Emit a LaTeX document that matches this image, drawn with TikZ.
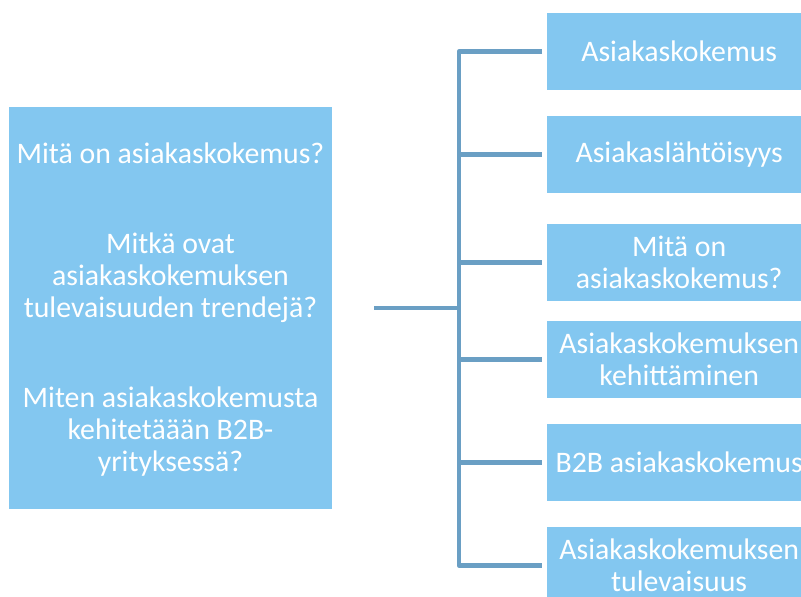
\documentclass[tikz,border=0pt]{standalone}
\usepackage{fontspec}
\setmainfont{Carlito}
\definecolor{boxblue}{HTML}{83C7F0}
\definecolor{linkblue}{HTML}{6A9FC4}
\begin{document}
\begin{tikzpicture}[x=1pt,y=-1pt,
  qbox/.style={fill=boxblue, draw=none, inner sep=0pt},
  tbox/.style={fill=boxblue, draw=none, minimum width=264pt, minimum height=77pt,
    anchor=west, inner sep=0pt},
  lbl/.style={text=white, font=\fontsize{29.8}{32}\selectfont, align=center},
  conn/.style={draw=linkblue, line width=4.4pt, line join=round}]
\useasboundingbox (0,0) rectangle (801,597);
\clip (0,0) rectangle (801,597);

% question panel
\node[qbox, minimum width=323pt, minimum height=402pt] (q) at (170.5,308) {};
\node[lbl] (q1) at (170.5,153) {Mitä on asiakaskokemus?};
\node[lbl] (q2) at (170.5,278) {Mitkä ovat\\asiakaskokemuksen\\tulevaisuuden trendejä?};
\node[lbl] (q3) at (170.5,431.5) {Miten asiakaskokemusta\\kehitetäään B2B-\\yrityksessä?};

% topic boxes
\node[tbox] (r1) at (547,51.5) {};
\node[tbox] (r2) at (547,154.5) {};
\node[tbox] (r3) at (547,262.5) {};
\node[tbox] (r4) at (547,359.5) {};
\node[tbox] (r5) at (547,462.5) {};
\node[tbox] (r6) at (547,565.5) {};
\node[lbl] (t1) at (r1.center) {Asiakaskokemus};
\node[lbl] (t2) at (r2.center) {Asiakaslähtöisyys};
\node[lbl] (t3) at (r3.center) {Mitä on\\asiakaskokemus?};
\node[lbl] (t4) at (r4.center) {Asiakaskokemuksen\\kehittäminen};
\node[lbl] (t5) at (r5.center) {B2B asiakaskokemus};
\node[lbl] (t6) at (r6.center) {Asiakaskokemuksen\\tulevaisuus};

% bracket connector
\coordinate (stub) at (374,308);
\coordinate (spine) at (459,308);
\draw[conn] (stub) -- (spine);
\draw[conn] ([xshift=-5pt]r1.west) -- (spine |- r1.west) -- (spine |- r6.west) -- ([xshift=-5pt]r6.west);
\foreach \i in {2,3,4,5}
  \draw[conn] (spine |- r\i.west) -- ([xshift=-5pt]r\i.west);
\end{tikzpicture}
\end{document}
